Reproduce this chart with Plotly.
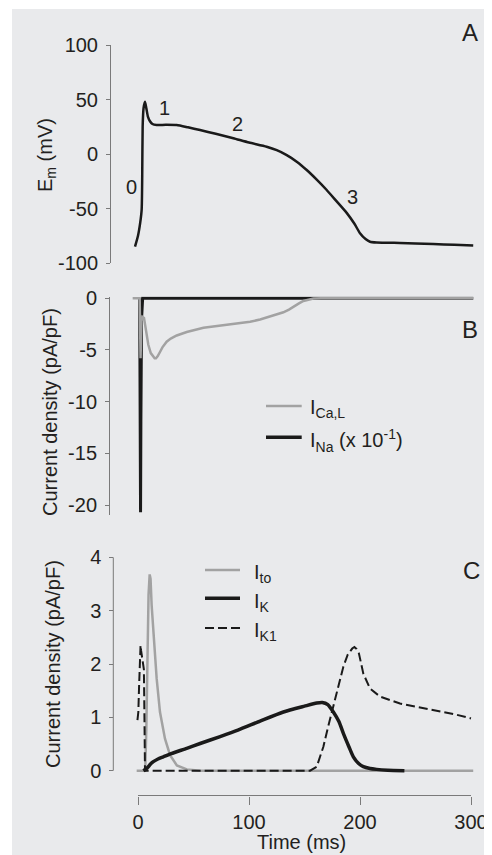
import plotly.graph_objects as go

# ---------------- data ----------------
# Panel A: action potential
t_em = [-2.7, 0, 2, 3.3, 3.8, 4.2, 5.0, 6.3, 7.5, 9.0, 10.8, 13, 16.8, 25, 34.8, 45, 55.9, 70, 85.9,
        100, 115.9, 125, 134, 143, 152, 161, 170, 179, 188, 195, 200, 205, 209, 215, 225, 236, 250,
        266, 285, 302]
em = [-85, -75, -63, -51, -20, 25, 42, 48, 42, 34, 30, 27.5, 26.6, 26.8, 26.6, 24.5, 22, 18.5, 14.4,
      10.5, 6.7, 3.5, -1, -7, -14.7, -23.5, -33, -43.5, -54, -64, -72.7, -78, -80.5, -81.2, -81.4,
      -81.6, -82, -82.6, -83.3, -84]
phase_labels = ["0", "1", "2", "3"]
phase_t = [-5.7, 24.3, 89.5, 193]
phase_v = [-30, 42.2, 27.5, -39.2]

# Panel B: inward currents
t_na = [1.5, 2.0, 2.3, 2.6, 3.2, 4.2, 302]
ina = [0, -10, -20.7, -12, -2, 0, 0]
t_ca = [-4.8, 1.5, 2.0, 2.3, 2.7, 3.2, 4.0, 5.4, 7, 9.3, 11.5, 13.8, 15.0, 16.2, 17.8, 19.8, 22,
        25.8, 29.5, 34.9, 43.9, 59, 74, 83, 92, 101, 110, 119, 126, 131, 136, 140, 145, 149, 154,
        158, 165, 173, 302]
ica = [0, 0, -3.5, -5.8, -4, -2.2, -1.8, -1.9, -3, -4.5, -5.3, -5.7, -5.8, -5.8, -5.6, -5.2, -4.75,
       -4.2, -3.9, -3.6, -3.26, -2.85, -2.65, -2.55, -2.42, -2.28, -2.05, -1.78, -1.57, -1.36, -1.1,
       -0.81, -0.5, -0.26, -0.1, -0.03, 0, 0, 0]

# Panel C: outward currents
t_to = [-1.2, 6.5, 7.5, 8.5, 9.5, 10.5, 11.3, 12.3, 13.8, 16.8, 19.8, 24.3, 28.9, 35, 44, 56, 302]
ito = [0, 0, 0.8, 2.2, 3.3, 3.68, 3.6, 3.1, 2.6, 1.73, 1.1, 0.6, 0.29, 0.1, 0.025, 0, 0]
t_k = [4.8, 7, 9.3, 11.5, 13.8, 18, 22.8, 30, 43.9, 56, 74, 90, 110, 131, 150, 161, 166, 171, 176,
       181, 185, 190, 194, 199, 203, 209, 215, 225, 240]
ik = [0, 0.03, 0.075, 0.13, 0.17, 0.22, 0.26, 0.32, 0.42, 0.51, 0.64, 0.76, 0.93, 1.1, 1.21, 1.27,
      1.28, 1.24, 1.1, 0.92, 0.7, 0.45, 0.26, 0.13, 0.075, 0.04, 0.025, 0.01, 0]
t_k1 = [-0.5, 0.3, 1.0, 1.8, 2.3, 2.8, 3.5, 4.5, 5.3, 5.8, 6.3, 150, 155, 161, 167, 171, 176, 180,
        185, 189, 193, 195, 197, 199, 203, 209, 218, 236, 250, 266, 285, 300]
ik1 = [0.95, 1.1, 1.6, 2.2, 2.35, 2.25, 2.15, 2.05, 1.9, 1.0, 0, 0, 0, 0.075, 0.45, 0.8, 1.2, 1.55,
       1.95, 2.18, 2.29, 2.32, 2.28, 2.2, 1.82, 1.54, 1.39, 1.26, 1.2, 1.14, 1.06, 0.98]

ticks_a = [100, 50, 0, -50, -100]
ticks_a_txt = ["100", "50", "0", "-50", "-100"]
ticks_b = [0, -5, -10, -15, -20]
ticks_b_txt = ["0", "-5", "-10", "-15", "-20"]
ticks_c = [0, 1, 2, 3, 4]
ticks_c_txt = ["0", "1", "2", "3", "4"]
ticks_t = [0, 100, 200, 300]
ticks_t_txt = ["0", "100", "200", "300"]

# ---------------- layout helpers ----------------
OFF = 8  # page body margin
W, H = 492 - OFF, 855 - OFF
def fx(px):
    return (px - OFF) / W
def fy(py):
    return 1 - (py - OFF) / H

FONT = "Liberation Sans, Arial, Helvetica, sans-serif"
TXT = "#231f20"
AX = "#7a7a7a"
GRAY = "#a2a2a2"
BLK = "#1a1a1a"
BG = "#e9eaec"

x0_px, px_per_ms = 138.0, 1.11
xr = [-30, 310]
xdom = [fx(x0_px + xr[0] * px_per_ms), fx(x0_px + xr[1] * px_per_ms)]

fig = go.Figure()
fig.add_trace(go.Scatter(x=t_em, y=em, mode="lines",
                         line=dict(color=BLK, width=2.5, shape="spline", smoothing=0.6),
                         xaxis="x", yaxis="y", showlegend=False))
fig.add_trace(go.Scatter(x=t_na, y=ina, mode="lines", line=dict(color=BLK, width=3),
                         xaxis="x2", yaxis="y2", showlegend=False))
fig.add_trace(go.Scatter(x=t_ca, y=ica, mode="lines", line=dict(color=GRAY, width=2.5),
                         xaxis="x2", yaxis="y2", showlegend=False))
fig.add_trace(go.Scatter(x=t_to, y=ito, mode="lines", line=dict(color=GRAY, width=2.5),
                         xaxis="x3", yaxis="y3", showlegend=False))
fig.add_trace(go.Scatter(x=t_k, y=ik, mode="lines",
                         line=dict(color=BLK, width=3.5, shape="spline", smoothing=0.6),
                         xaxis="x3", yaxis="y3", showlegend=False))
fig.add_trace(go.Scatter(x=t_k1, y=ik1, mode="lines", line=dict(color=BLK, width=2, dash="9px,4px"),
                         xaxis="x3", yaxis="y3", showlegend=False))

tickfont = dict(family=FONT, size=20, color=TXT)
ycommon = dict(ticks="outside", ticklen=4, tickwidth=1, tickcolor=AX, tickfont=tickfont,
               ticklabelstandoff=4, showgrid=False, zeroline=False, anchor="free",
               automargin=False, fixedrange=True)

fig.update_layout(
    width=W, height=H,
    margin=dict(l=0, r=0, t=0, b=0),
    template="none",
    paper_bgcolor="white",
    plot_bgcolor="rgba(0,0,0,0)",
    showlegend=False,
    xaxis=dict(domain=xdom, range=xr, visible=False, fixedrange=True),
    xaxis2=dict(domain=xdom, range=xr, visible=False, fixedrange=True),
    xaxis3=dict(domain=xdom, range=xr, anchor="free", position=fy(795.5), showline=False,
                ticks="outside", ticklen=8, tickwidth=1, tickcolor=AX, tickfont=tickfont,
                tickvals=ticks_t, ticktext=ticks_t_txt, showgrid=False, zeroline=False,
                automargin=False, fixedrange=True),
    yaxis=dict(domain=[fy(263), fy(45)], range=[-100, 100], position=fx(110), showline=True,
               linecolor=AX, linewidth=1, tickvals=ticks_a, ticktext=ticks_a_txt, **ycommon),
    yaxis2=dict(domain=[fy(515.4), fy(296.6)], range=[-21, 0.16], position=fx(109), showline=True,
                linecolor=AX, linewidth=1, tickvals=ticks_b, ticktext=ticks_b_txt, **ycommon),
    yaxis3=dict(domain=[fy(778.7), fy(552.0)], range=[-0.15, 4.1], position=fx(113.3), showline=False,
                tickvals=ticks_c, ticktext=ticks_c_txt, **ycommon),
)

shapes = [
    dict(type="rect", xref="paper", yref="paper", x0=fx(12), x1=1.0, y0=0.0, y1=fy(9),
         fillcolor=BG, line=dict(width=0), layer="below"),
    # panel C y-axis line and time-axis line
    dict(type="line", xref="paper", yref="y3", x0=fx(113.3), x1=fx(113.3), y0=0, y1=4,
         line=dict(color=AX, width=1)),
    dict(type="line", xref="x3", yref="paper", x0=0, x1=300, y0=fy(795.5), y1=fy(795.5),
         line=dict(color=AX, width=1)),
    # legend keys panel B
    dict(type="line", xref="paper", yref="paper", x0=fx(266), x1=fx(301.7), y0=fy(406), y1=fy(406),
         line=dict(color=GRAY, width=2.5)),
    dict(type="line", xref="paper", yref="paper", x0=fx(266), x1=fx(301.7), y0=fy(437.3), y1=fy(437.3),
         line=dict(color=BLK, width=3.5)),
    # legend keys panel C
    dict(type="line", xref="paper", yref="paper", x0=fx(205), x1=fx(240), y0=fy(570), y1=fy(570),
         line=dict(color=GRAY, width=2.5)),
    dict(type="line", xref="paper", yref="paper", x0=fx(205), x1=fx(240), y0=fy(598.3), y1=fy(598.3),
         line=dict(color=BLK, width=3.5)),
    dict(type="line", xref="paper", yref="paper", x0=fx(205), x1=fx(240), y0=fy(628), y1=fy(628),
         line=dict(color=BLK, width=2, dash="9px,4px")),
]
fig.update_layout(shapes=shapes)

def ann(text, px, py, size=20, angle=0, xanchor="center", yanchor="middle"):
    return dict(text=text, x=fx(px), y=fy(py), xref="paper", yref="paper", showarrow=False,
                font=dict(family=FONT, size=size, color=TXT), textangle=angle,
                xanchor=xanchor, yanchor=yanchor)

annots = [
    ann("E<sub>m</sub> (mV)", 47, 155, angle=-90),
    ann("Current density (pA/pF)", 50, 412, angle=-90),
    ann("Current density (pA/pF)", 53, 664, angle=-90),
    ann("Time (ms)", 301.7, 841.7),
    ann("A", 470, 33, size=24),
    ann("B", 470, 329, size=24),
    ann("C", 471, 570, size=24),
    ann("I<sub>Ca,L</sub>", 308, 409, xanchor="left"),
    ann("I<sub>Na</sub> (x 10<sup>-1</sup>)", 308, 440, xanchor="left"),
    ann("I<sub>to</sub>", 252, 573, xanchor="left"),
    ann("I<sub>K</sub>", 252, 602, xanchor="left"),
    ann("I<sub>K1</sub>", 252, 631, xanchor="left"),
]
for lab, t, v in zip(phase_labels, phase_t, phase_v):
    annots.append(dict(text=lab, x=t, y=v, xref="x", yref="y", showarrow=False,
                       font=dict(family=FONT, size=20, color=TXT), xanchor="center", yanchor="middle"))
fig.update_layout(annotations=annots)

fig.write_html("out.html")
